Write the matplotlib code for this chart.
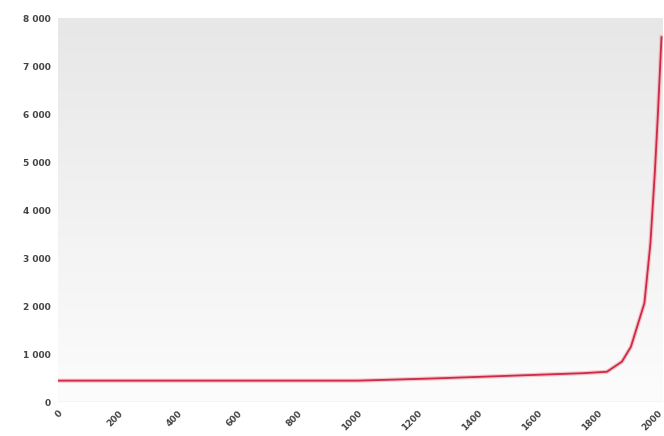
import numpy as np
import matplotlib
matplotlib.use("Agg")
from matplotlib import pyplot as plt
from matplotlib.colors import LinearSegmentedColormap

# values
years = [0, 1000, 1250, 1500, 1750, 1830, 1880, 1910, 1955, 1975, 1990, 2000, 2012]
population = [445, 445, 490, 545, 600, 630, 840, 1150, 2060, 3300, 4800, 6000, 7600]
x_ticks = list(range(0, 2001, 200))
y_ticks = list(range(0, 8001, 1000))

fig = plt.figure(figsize=(6.64, 4.36), dpi=100)
ax = fig.add_axes([58/664, 1 - 402/436, 605/664, 384/436])

# grey-to-white vertical gradient behind the plot
grad = LinearSegmentedColormap.from_list("bg", ["#fcfcfc", "#e7e7e7"])
ax.imshow(np.linspace(0, 1, 256).reshape(-1, 1), cmap=grad, aspect="auto",
          extent=[0, 1, 0, 1], transform=ax.transAxes, origin="lower", zorder=0)

ax.plot(years, population, color="#f3a0ad", lw=3.0, alpha=0.6, zorder=2,
        solid_joinstyle="round")
ax.plot(years, population, color="#cc2a45", lw=1.3, zorder=3,
        solid_joinstyle="round")

ax.set_xlim(0, 2017)
ax.set_ylim(0, 8000)
ax.set_xticks(x_ticks)
ax.set_yticks(y_ticks)
ax.set_xticklabels([str(t) for t in x_ticks], rotation=45, ha="right",
                   va="top", rotation_mode="anchor")
ax.set_yticklabels([f"{t:,}".replace(",", " ") for t in y_ticks])
ax.tick_params(length=0, labelsize=6.5, labelcolor="#444444", pad=5)
for lab in ax.get_xticklabels() + ax.get_yticklabels():
    lab.set_fontweight("bold")

for s in ax.spines.values():
    s.set_visible(False)
ax.axhline(0, color="#dddddd", lw=1, zorder=1)

fig.savefig("out.png", dpi=100)
